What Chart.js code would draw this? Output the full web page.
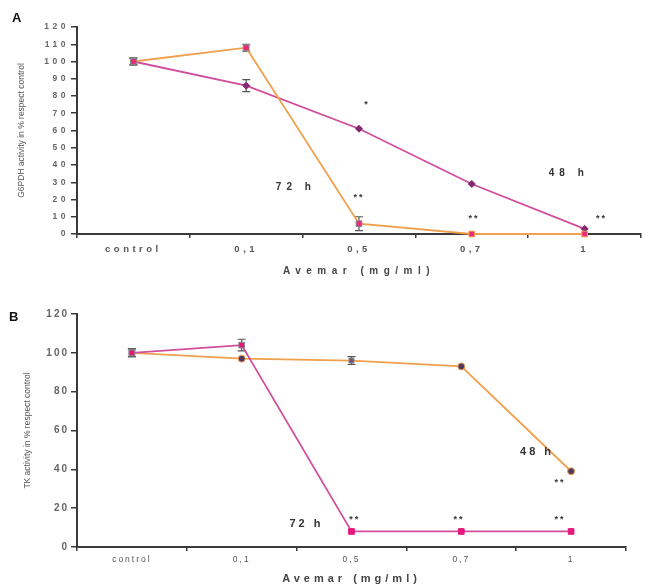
<!DOCTYPE html>
<html>
<head>
<meta charset="utf-8">
<script src="https://cdn.jsdelivr.net/npm/chart.js@4.4.1/dist/chart.umd.min.js"></script>
<style>
  body { margin: 0; background: #fff; }
  #wrapA { position: absolute; left: 0; top: 0; width: 646px; height: 290px; }
  #wrapB { position: absolute; left: 0; top: 290px; width: 646px; height: 297px; }
</style>
</head>
<body>
<div id="wrapA"><canvas id="chartA"></canvas></div>
<div id="wrapB"><canvas id="chartB"></canvas></div>
<script>
const doses = ["control", "0,1", "0,5", "0,7", "1"];

// panel A - G6PDH activity
const g6pdh72 = [100, 108, 6, 0, 0];
const g6pdh72Err = [2, 2, 4, 0, 0];
const g6pdh48 = [100, 86, 61, 29, 3];
const g6pdh48Err = [2, 3.5, 0, 0, 0];

// panel B - TK activity
const tk72 = [100, 104, 8, 8, 8];
const tk72Err = [2, 3, 0, 0, 0];
const tk48 = [100, 97, 96, 93, 39];
const tk48Err = [2, 0, 2, 0, 0];

// marks placed in data units: [text, dose index, value]
const notesA = [["*", 2.07, 75], ["**", 2.0, 21], ["**", 3.02, 9], ["**", 4.15, 9]];
const curveLabelsA = [["72 h", 1.44, 27], ["48 h", 3.86, 35]];
const notesB = [["**", 2.03, 14], ["**", 2.98, 14], ["**", 3.9, 14], ["**", 3.9, 33]];
const curveLabelsB = [["72 h", 1.59, 12], ["48 h", 3.69, 49]];

const ORANGE = "#f0a04c";
const MAGENTA = "#d24d9c";
const PINK = "#ea2a7c";
const AXIS = "#3a3a3a";
const FONT = "'Liberation Sans', Arial, sans-serif";

const extras = {
  id: "extras",
  beforeDraw(chart, args, opts) {
    chart.ctx.letterSpacing = opts.tickSpacing;
  },
  beforeDatasetsDraw(chart, args, opts) {
    const { ctx, scales: { x, y } } = chart;
    ctx.save();
    ctx.letterSpacing = "0px";
    ctx.strokeStyle = "#555";
    ctx.lineWidth = 1.2;
    chart.data.datasets.forEach((ds, i) => {
      const err = opts.errors[i];
      ds.data.forEach((v, j) => {
        if (!err[j]) return;
        const px = x.getPixelForValue(j);
        const top = y.getPixelForValue(v + err[j]);
        const bot = y.getPixelForValue(Math.max(0, v - err[j]));
        ctx.beginPath();
        ctx.moveTo(px, top); ctx.lineTo(px, bot);
        ctx.moveTo(px - 4, top); ctx.lineTo(px + 4, top);
        ctx.moveTo(px - 4, bot); ctx.lineTo(px + 4, bot);
        ctx.stroke();
      });
    });
    ctx.restore();
  },
  afterDraw(chart, args, opts) {
    const { ctx, chartArea, scales: { x, y } } = chart;
    ctx.save();
    ctx.textAlign = "center";
    ctx.textBaseline = "middle";
    ctx.fillStyle = "#333";
    ctx.letterSpacing = "2px";
    ctx.font = "bold 9px " + FONT;
    opts.notes.forEach(([t, i, v]) => ctx.fillText(t, x.getPixelForValue(i), y.getPixelForValue(v)));
    ctx.letterSpacing = opts.labelSpacing;
    ctx.font = opts.labelFont;
    opts.curveLabels.forEach(([t, i, v]) => ctx.fillText(t, x.getPixelForValue(i), y.getPixelForValue(v)));

    // axis titles
    ctx.fillStyle = "#444";
    ctx.letterSpacing = opts.xTitleSpacing;
    ctx.font = opts.xTitleFont;
    ctx.fillText("Avemar (mg/ml)", (chartArea.left + chartArea.right) / 2, opts.xTitleY);
    ctx.letterSpacing = "0px";
    ctx.font = opts.yTitleFont;
    ctx.fillStyle = "#555";
    ctx.translate(opts.yTitleX, (chartArea.top + chartArea.bottom) / 2);
    ctx.rotate(-Math.PI / 2);
    ctx.fillText(opts.yTitle, 0, 0);
    ctx.restore();

    ctx.save();
    ctx.letterSpacing = "0px";
    ctx.fillStyle = "#111";
    ctx.font = "bold 13px " + FONT;
    ctx.textBaseline = "middle";
    ctx.fillText(opts.panel, opts.panelX, opts.panelY);
    ctx.restore();
  }
};

const makeScales = (step, yWidth, xHeight, yFont, xFont, tickPad) => ({
  x: {
    type: "category",
    offset: true,
    grid: { drawOnChartArea: false, offset: true, tickLength: 4, color: AXIS, lineWidth: 1.5 },
    border: { color: AXIS, width: 2 },
    ticks: { color: "#555", font: xFont, padding: tickPad, maxRotation: 0 },
    afterFit: (s) => { s.height = xHeight; }
  },
  y: {
    min: 0,
    max: 120,
    grid: { drawOnChartArea: false, tickLength: 6, color: AXIS, lineWidth: 1.5 },
    border: { color: AXIS, width: 2 },
    ticks: { stepSize: step, color: "#666", font: yFont, padding: 2 },
    afterFit: (s) => { s.width = yWidth; }
  }
});

new Chart(document.getElementById("chartA"), {
  type: "line",
  data: {
    labels: doses,
    datasets: [
      {
        label: "72 h",
        data: g6pdh72,
        borderColor: ORANGE,
        borderWidth: 1.8,
        pointStyle: "rect",
        pointRadius: 4,
        pointBackgroundColor: PINK,
        pointBorderColor: ["#888", "#888", "#888", ORANGE, ORANGE],
        pointBorderWidth: 1,
        tension: 0,
        clip: false
      },
      {
        label: "48 h",
        data: g6pdh48,
        borderColor: MAGENTA,
        borderWidth: 1.8,
        pointStyle: ["rect", "rectRot", "rectRot", "rectRot", "rectRot"],
        pointRadius: [4, 3.5, 3.5, 3.5, 3.5],
        pointBackgroundColor: [PINK, "#86286f", "#86286f", "#86286f", "#86286f"],
        pointBorderColor: ["#888", "#86286f", "#86286f", "#86286f", "#86286f"],
        pointBorderWidth: 1,
        tension: 0,
        clip: false
      }
    ]
  },
  options: {
    responsive: true,
    maintainAspectRatio: false,
    animation: false,
    layout: { padding: { top: 27, right: 0, left: 0, bottom: 0 } },
    plugins: {
      legend: { display: false },
      tooltip: { enabled: false },
      extras: {
        errors: [g6pdh72Err, g6pdh48Err],
        notes: notesA,
        curveLabels: curveLabelsA,
        tickSpacing: "3.5px",
        labelSpacing: "5px",
        labelFont: "bold 10px " + FONT,
        xTitleSpacing: "5.5px",
        xTitleFont: "bold 10px " + FONT,
        xTitleY: 271,
        yTitle: "G6PDH activity in % respect control",
        yTitleFont: "8.5px " + FONT,
        yTitleX: 22,
        panel: "A",
        panelX: 12,
        panelY: 18
      }
    },
    scales: makeScales(10, 77, 56,
      { family: FONT, size: 8.5, weight: "bold" },
      { family: FONT, size: 9.5, weight: "bold" }, 6)
  },
  plugins: [extras]
});

new Chart(document.getElementById("chartB"), {
  type: "line",
  data: {
    labels: doses,
    datasets: [
      {
        label: "72 h",
        data: tk72,
        borderColor: MAGENTA,
        borderWidth: 1.8,
        pointStyle: "rect",
        pointRadius: 4,
        pointBackgroundColor: "#e8167c",
        pointBorderColor: ["#888", "#888", "#e8167c", "#e8167c", "#e8167c"],
        pointBorderWidth: 1,
        tension: 0,
        clip: false
      },
      {
        label: "48 h",
        data: tk48,
        borderColor: ORANGE,
        borderWidth: 1.8,
        pointStyle: ["rect", "circle", "rect", "circle", "circle"],
        pointRadius: [4, 3.5, 3.5, 3.5, 3.5],
        pointBackgroundColor: [PINK, "#4c3b66", "#6a5a70", "#4c3b66", "#4c3b66"],
        pointBorderColor: ["#888", ORANGE, "#888", ORANGE, ORANGE],
        pointBorderWidth: 1,
        tension: 0,
        clip: false
      }
    ]
  },
  options: {
    responsive: true,
    maintainAspectRatio: false,
    animation: false,
    layout: { padding: { top: 24, right: 20, left: 0, bottom: 0 } },
    plugins: {
      legend: { display: false },
      tooltip: { enabled: false },
      extras: {
        errors: [tk72Err, tk48Err],
        notes: notesB,
        curveLabels: curveLabelsB,
        tickSpacing: "2px",
        labelSpacing: "3px",
        labelFont: "bold 11px " + FONT,
        xTitleSpacing: "4px",
        xTitleFont: "bold 11px " + FONT,
        xTitleY: 289,
        yTitle: "TK activity in % respect control",
        yTitleFont: "8.5px " + FONT,
        yTitleX: 28,
        panel: "B",
        panelX: 9,
        panelY: 27
      }
    },
    scales: makeScales(20, 77, 40,
      { family: FONT, size: 10, weight: "bold" },
      { family: FONT, size: 8.5 }, 4)
  },
  plugins: [extras]
});
</script>
</body>
</html>
